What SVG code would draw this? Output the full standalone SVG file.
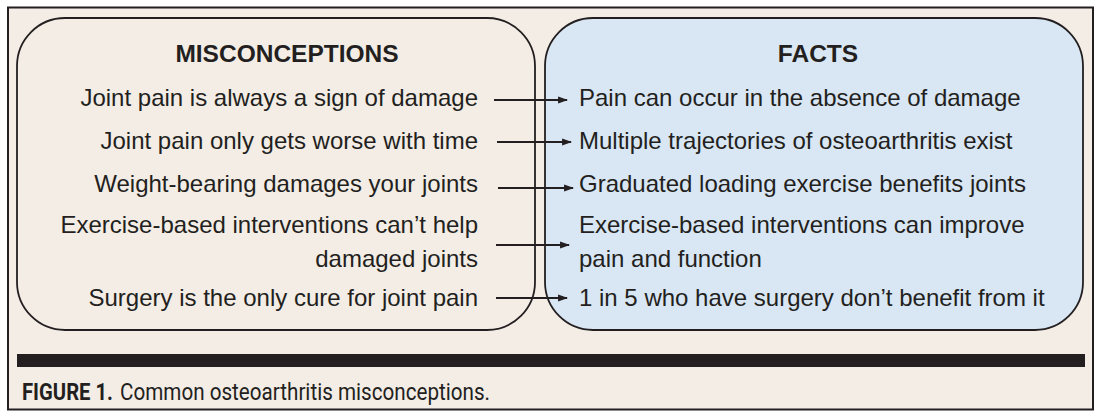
<svg xmlns="http://www.w3.org/2000/svg" width="1101" height="417" viewBox="0 0 1101 417">
<defs>
<style>
.t{font-family:"Liberation Sans",Arial,sans-serif;font-size:24px;fill:#231f20}
.h{font-family:"Liberation Sans",Arial,sans-serif;font-size:24.5px;font-weight:bold;fill:#231f20}
.r{text-anchor:end}
.c{font-family:Roboto,"Liberation Sans",sans-serif;font-size:24px;fill:#231f20}
.ln{stroke:#231f20;stroke-width:1.8;fill:none}
</style>
<marker id="ah" viewBox="0 0 10 10" refX="9" refY="5" markerWidth="5.5" markerHeight="5.5" orient="auto" markerUnits="strokeWidth">
<path d="M0,1.5 L10,5 L0,8.5 z" fill="#231f20"/>
</marker>
</defs>
<rect x="0" y="0" width="1101" height="417" fill="#ffffff"/>
<rect x="8" y="7.5" width="1085" height="402" fill="#f3ede6" stroke="#231f20" stroke-width="2"/>
<g id="misconceptions">
<rect x="17" y="18" width="518" height="312" rx="48" ry="48" fill="#f3ede6" stroke="#231f20" stroke-width="1.8"/>
<text class="h" x="287" y="62" text-anchor="middle">MISCONCEPTIONS</text>
<text class="t r" x="478" y="106">Joint pain is always a sign of damage</text>
<text class="t r" x="478" y="149">Joint pain only gets worse with time</text>
<text class="t r" x="478" y="192">Weight-bearing damages your joints</text>
<text class="t r" x="478" y="233">Exercise-based interventions can’t help</text>
<text class="t r" x="478" y="267">damaged joints</text>
<text class="t r" x="478" y="306">Surgery is the only cure for joint pain</text>
</g>
<g id="facts">
<rect x="545" y="18" width="538" height="312" rx="48" ry="48" fill="#d9e6f3" stroke="#231f20" stroke-width="1.8"/>
<text class="h" x="818" y="62" text-anchor="middle">FACTS</text>
<text class="t" x="579" y="106">Pain can occur in the absence of damage</text>
<text class="t" x="579" y="149">Multiple trajectories of osteoarthritis exist</text>
<text class="t" x="579" y="192">Graduated loading exercise benefits joints</text>
<text class="t" x="579" y="233">Exercise-based interventions can improve</text>
<text class="t" x="579" y="267">pain and function</text>
<text class="t" x="579" y="306">1 in 5 who have surgery don’t benefit from it</text>
</g>
<g id="connectors">
<line class="ln" x1="494" y1="100" x2="567" y2="100" marker-end="url(#ah)"/>
<line class="ln" x1="497" y1="142" x2="571" y2="142" marker-end="url(#ah)"/>
<line class="ln" x1="498" y1="188" x2="573" y2="188" marker-end="url(#ah)"/>
<line class="ln" x1="496" y1="245" x2="569" y2="245" marker-end="url(#ah)"/>
<line class="ln" x1="496" y1="298" x2="567" y2="298" marker-end="url(#ah)"/>
</g>
<rect x="17" y="354" width="1068" height="13" fill="#231f20"/>
<text class="c" x="22" y="400" font-weight="bold" textLength="91" lengthAdjust="spacingAndGlyphs">FIGURE 1.</text>
<text class="c" x="120" y="400" textLength="370" lengthAdjust="spacingAndGlyphs">Common osteoarthritis misconceptions.</text>
</svg>
